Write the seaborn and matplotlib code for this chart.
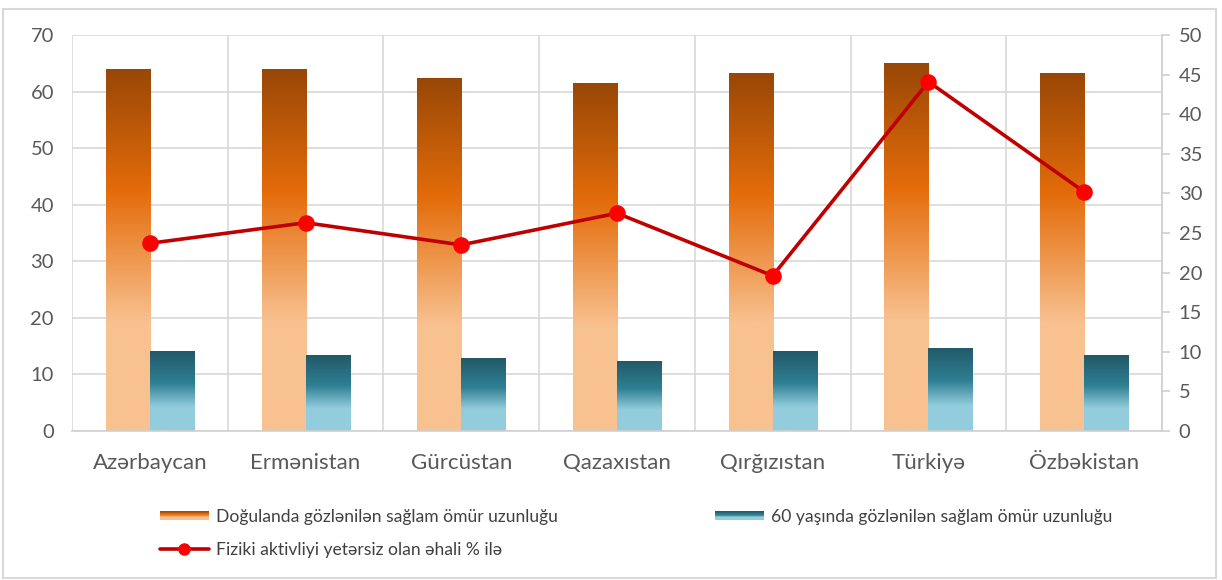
import matplotlib
matplotlib.use("Agg")
import matplotlib.pyplot as plt
import seaborn as sns
import numpy as np
import pandas as pd
from matplotlib.colors import LinearSegmentedColormap
from matplotlib.legend_handler import HandlerBase
from matplotlib.patches import Rectangle
from matplotlib.lines import Line2D

countries = ["Azərbaycan", "Ermənistan", "Gürcüstan", "Qazaxıstan",
             "Qırğızıstan", "Türkiyə", "Özbəkistan"]
hale_birth = [64.0, 64.0, 62.4, 61.5, 63.3, 65.1, 63.3]
hale_60 = [14.1, 13.4, 12.9, 12.4, 14.1, 14.7, 13.4]
inactive_pct = [23.7, 26.3, 23.5, 27.5, 19.6, 44.1, 30.2]

label_birth = "Doğulanda gözlənilən sağlam ömür uzunluğu"
label_60 = "60 yaşında gözlənilən sağlam ömür uzunluğu"
label_line = "Fiziki aktivliyi yetərsiz olan əhali % ilə"

sns.set_style("white")
plt.rcParams["font.family"] = ["Lato", "DejaVu Sans"]

# gradients (bottom -> top)
cmap_orange = LinearSegmentedColormap.from_list(
    "orange", [(0, "#f8c190"), (0.30, "#f8c190"), (0.66, "#e46c0a"), (1, "#984707")])
cmap_blue = LinearSegmentedColormap.from_list(
    "blue", [(0, "#93cddd"), (0.30, "#93cddd"), (0.60, "#2f7f93"), (1, "#215968")])
grad = np.linspace(0, 1, 256).reshape(-1, 1)

df = pd.DataFrame({
    "country": countries * 2,
    "value": hale_birth + hale_60,
    "series": [label_birth] * len(countries) + [label_60] * len(countries),
})

fig = plt.figure(figsize=(12.22, 5.8), dpi=100)
ax = fig.add_axes([72 / 1222, 149 / 580, 1090 / 1222, 396 / 580])

sns.barplot(data=df, x="country", y="value", hue="series", ax=ax,
            palette=["#e46c0a", "#31859c"], width=0.566, gap=0,
            legend=False, zorder=2)

# paint each bar with its gradient
for container, cm in zip(ax.containers, [cmap_orange, cmap_blue]):
    for bar in container:
        x0, y0 = bar.get_x(), bar.get_y()
        w, h = bar.get_width(), bar.get_height()
        im = ax.imshow(grad, cmap=cm, origin="lower", aspect="auto",
                       extent=[x0, x0 + w, y0, y0 + h], zorder=2)
        im.set_clip_path(bar)
        bar.set_facecolor("none")
        bar.set_edgecolor("none")

ax.set_xlim(-0.5, len(countries) - 0.5)
ax.set_ylim(0, 70)
ax.set_yticks(np.arange(0, 71, 10))
ax.set_xticks(np.arange(len(countries)))
ax.set_xticklabels(countries)
ax.set_xticks(np.arange(-0.5, len(countries), 1), minor=True)
ax.grid(True, axis="y", color="#d9d9d9", lw=1.2, zorder=0)
ax.grid(True, axis="x", which="minor", color="#d9d9d9", lw=1.2, zorder=0)
ax.set_axisbelow(True)
ax.set_xlabel("")
ax.set_ylabel("")
for s in ["top", "left", "right"]:
    ax.spines[s].set_visible(False)
ax.spines["bottom"].set_color("#d0d0d0")
ax.spines["bottom"].set_linewidth(1.2)
ax.tick_params(axis="y", length=0, pad=13, labelsize=14.5, labelcolor="#595959")
ax.tick_params(axis="x", which="both", length=0, pad=16, labelsize=16, labelcolor="#595959")

ax2 = ax.twinx()
line_df = pd.DataFrame({"country": countries, "pct": inactive_pct})
sns.pointplot(data=line_df, x="country", y="pct", ax=ax2, color="#c00000",
              markers="o", errorbar=None, linewidth=2.6, markersize=10)
for ln in ax2.lines:
    ln.set_markerfacecolor("#ff0000")
    ln.set_markeredgecolor("#ff0000")
ax2.set_xlim(-0.5, len(countries) - 0.5)
ax2.set_ylim(0, 50)
ax2.set_yticks(np.arange(0, 51, 5))
ax2.set_ylabel("")
ax2.set_xlabel("")
for s in ["top", "left", "bottom"]:
    ax2.spines[s].set_visible(False)
ax2.spines["right"].set_color("#d0d0d0")
ax2.spines["right"].set_linewidth(1.2)
ax2.tick_params(axis="y", length=6, width=1.2, color="#d0d0d0", pad=6,
                labelsize=14.5, labelcolor="#595959")


class GradientHandler(HandlerBase):
    def __init__(self, cmap, n=12):
        super().__init__()
        self.cmap = cmap
        self.n = n

    def create_artists(self, legend, orig_handle, xdescent, ydescent,
                       width, height, fontsize, trans):
        arts = []
        h = height * 0.7
        y0 = -ydescent + (height - h) / 2
        for i in range(self.n):
            frac = 1 - (i + 0.5) / self.n
            r = Rectangle((-xdescent, y0 + h * (self.n - 1 - i) / self.n),
                          width, h / self.n, facecolor=self.cmap(frac),
                          edgecolor="none", transform=trans)
            arts.append(r)
        return arts


h_birth = Rectangle((0, 0), 1, 1)
h_60 = Rectangle((0, 0), 1, 1)
h_line = Line2D([], [], color="#c00000", lw=2.6, marker="o",
                markerfacecolor="#ff0000", markeredgecolor="#ff0000", markersize=8)

fig.legend([h_birth, h_line, h_60], [label_birth, label_line, label_60],
           handler_map={h_birth: GradientHandler(cmap_orange),
                        h_60: GradientHandler(cmap_blue)},
           loc="upper left", bbox_to_anchor=(144 / 1222, 1 - 493 / 580),
           ncol=2, frameon=False, fontsize=12.6, labelcolor="#404040",
           handlelength=2.8, handletextpad=0.4, columnspacing=9.0,
           labelspacing=1.0)

fig.patches.append(Rectangle((3 / 1222, 2 / 580), 1213 / 1222, 569 / 580,
                             transform=fig.transFigure, fill=False,
                             edgecolor="#d9d9d9", lw=1.5))

fig.savefig("out.png", dpi=100)
